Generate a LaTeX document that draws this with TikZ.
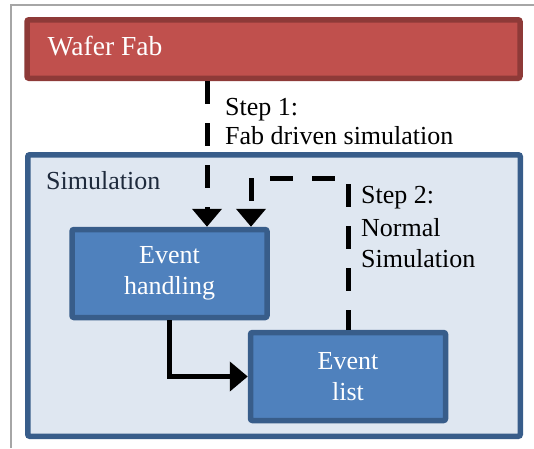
\documentclass[tikz,border=0pt]{standalone}
\usepackage{fontspec}
\setmainfont{Liberation Serif}
\newfontfamily\labelfont{Liberation Serif}
\usetikzlibrary{arrows.meta}
\definecolor{fabfill}{HTML}{C0504D}
\definecolor{fabline}{HTML}{8E3A38}
\definecolor{simfill}{HTML}{DFE7F1}
\definecolor{boxline}{HTML}{385D8A}
\definecolor{boxfill}{HTML}{4F81BD}
\definecolor{simtext}{HTML}{1E2A3C}
\definecolor{framegray}{HTML}{A6A6A6}
\tikzset{
  panel/.style={draw=#1, line width=5.5pt, rounded corners=2pt, inner sep=0pt},
  blockbox/.style={panel=boxline, fill=boxfill, text=white, align=center,
    minimum width=195pt, minimum height=88pt,
    font=\labelfont\fontsize{26}{31}\selectfont},
  lbl/.style={anchor=base west, inner sep=0pt,
    font=\labelfont\fontsize{26}{30}\selectfont},
  flow/.style={line width=5pt, -{Triangle[length=18pt,width=29pt]}},
  dashflow/.style={flow, dash pattern=on 23pt off 19pt},
}
\begin{document}
\begin{tikzpicture}[x=1pt,y=-1pt]
  \useasboundingbox (0,0) rectangle (534,448);
  % outer frame
  \draw[framegray, line width=2pt] (11,448) -- (11,5) -- (534,5);

  % top panel
  \node[panel=fabline, fill=fabfill, minimum width=493pt, minimum height=58.5pt]
    (wafer) at (273.5,49) {};
  \node[lbl, text=white, font=\labelfont\fontsize{27.5}{30}\selectfont]
    (wafertxt) at (47.5,55) {Wafer Fab};

  % simulation panel
  \node[panel=boxline, fill=simfill, minimum width=492.5pt, minimum height=281.5pt]
    (sim) at (274,295.5) {};
  \node[lbl, text=simtext] (simtxt) at (46,189) {Simulation};

  % blocks
  \node[blockbox] (eh) at (169.5,273.5) {Event\\handling};
  \node[blockbox] (ev) at (348,376.5) {Event\\list};

  % guide coordinates for the connectors
  \coordinate (s1) at (207,0);
  \coordinate (turn) at (251,178);

  % step 1: from the fab into event handling
  \draw[dashflow] (wafer.south -| s1) -- (eh.north -| s1);
  % step 2: event list back to event handling
  \draw[dashflow, dash phase=3pt] (ev.north) |- (turn) -- (eh.north -| turn);
  % event handling feeds the event list
  \draw[flow] (eh.south) |- (ev.west);

  % labels
  \node[lbl] (st1a) at (225,115) {Step 1:};
  \node[lbl] (st1b) at (225,144) {Fab driven simulation};
  \node[lbl] (st2a) at (361,203) {Step 2:};
  \node[lbl] (st2b) at (361,236) {Normal};
  \node[lbl] (st2c) at (361,267) {Simulation};
\end{tikzpicture}
\end{document}
